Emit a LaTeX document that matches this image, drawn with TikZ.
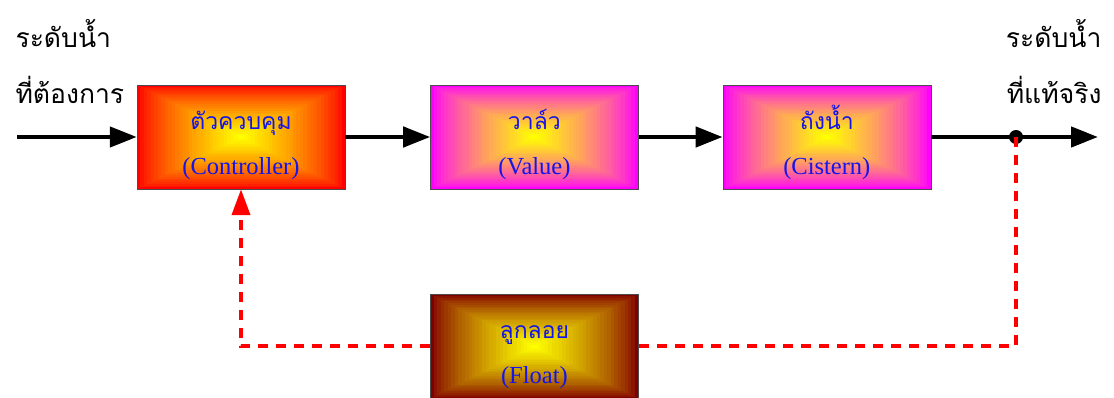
\documentclass[tikz,border=0pt]{standalone}
\usepackage{fontspec}
\setmainfont{Liberation Serif}
\newfontfamily\thaifont[Script=Thai]{Loma}
\usetikzlibrary{positioning, calc, arrows.meta}
\definecolor{ctrl_red}{RGB}{255, 0, 0}
\definecolor{valve_pink}{RGB}{255, 0, 255}
\definecolor{float_brown}{RGB}{128, 0, 0}
\definecolor{core_yellow}{RGB}{255, 255, 0}
\definecolor{label_blue}{RGB}{20, 20, 235}
\definecolor{loop_red}{RGB}{255, 0, 0}

\begin{document}
\begin{tikzpicture}[
    x=1pt, y=-1pt,
    font=\fontsize{24.5}{45}\selectfont,
    % Boxes filled with nested rectangles, outer colour fading to yellow
    block/.style={
        draw=black!70,
        thin,
        rectangle,
        minimum width=208pt,
        minimum height=104pt,
        inner sep=0pt,
        align=center,
        text=label_blue,
        path picture={
            \foreach \k in {0,...,29}{
                \pgfmathtruncatemacro\p{100*(\k/29)^0.75}
                \pgfmathsetmacro\f{1-\k/30}
                \fill[core_yellow!\p!#1]
                    ($(path picture bounding box.center)!\f!(path picture bounding box.south west)$)
                    rectangle
                    ($(path picture bounding box.center)!\f!(path picture bounding box.north east)$);
            }
        }
    },
    thai/.style={font=\thaifont\fontsize{26.5}{56}\selectfont},
    arrow/.style={-{Triangle[length=27pt, width=20pt]}, line width=4.5pt},
    feedback/.style={line width=4pt, loop_red, dash pattern=on 10pt off 8pt}
]
    \useasboundingbox (0,0) rectangle (1114,398);

    % ==========================================
    % 1. FORWARD PATH
    % ==========================================

    \node (ctrl) [block=ctrl_red] at (241,137) {
        \rule{0pt}{35pt}{\thaifont\fontsize{23}{45}\selectfont ตัวควบคุม}\\(Controller)
    };
    \node (valve) [block=valve_pink, right=85pt of ctrl] {
        \rule{0pt}{35pt}{\thaifont\fontsize{23}{45}\selectfont วาล์ว}\\(Value)
    };
    \node (tank) [block=valve_pink, right=84pt of valve] {
        \rule{0pt}{35pt}{\thaifont\fontsize{23}{45}\selectfont ถังน้ำ}\\(Cistern)
    };

    % Input and output ends
    \coordinate (in_start) at (17,137);
    \coordinate (split) at (1016,137);
    \coordinate (out_end) at (1098,137);

    \node (in_label) [thai, anchor=west, align=left] at (12,62) {ระดับน้ำ\\ที่ต้องการ};
    \node (out_label) [thai, anchor=east, align=right] at (1105,62) {ระดับน้ำ\\ที่แท้จริง};

    \draw [arrow] (in_start) -- (ctrl.west);
    \draw [arrow] (ctrl.east) -- (valve.west);
    \draw [arrow] (valve.east) -- (tank.west);
    \draw [arrow] (tank.east) -- (out_end);
    \fill (split) circle (7);

    % ==========================================
    % 2. FEEDBACK THROUGH THE FLOAT
    % ==========================================

    \node (float) [block=float_brown, below=105pt of valve] {
        \rule{0pt}{35pt}{\thaifont\fontsize{23}{45}\selectfont ลูกลอย}\\(Float)
    };

    \draw [feedback] (split) |- (float.east);
    \draw [feedback, -{Triangle[length=26pt, width=18pt]}] (float.west) -| (ctrl.south);

\end{tikzpicture}
\end{document}
